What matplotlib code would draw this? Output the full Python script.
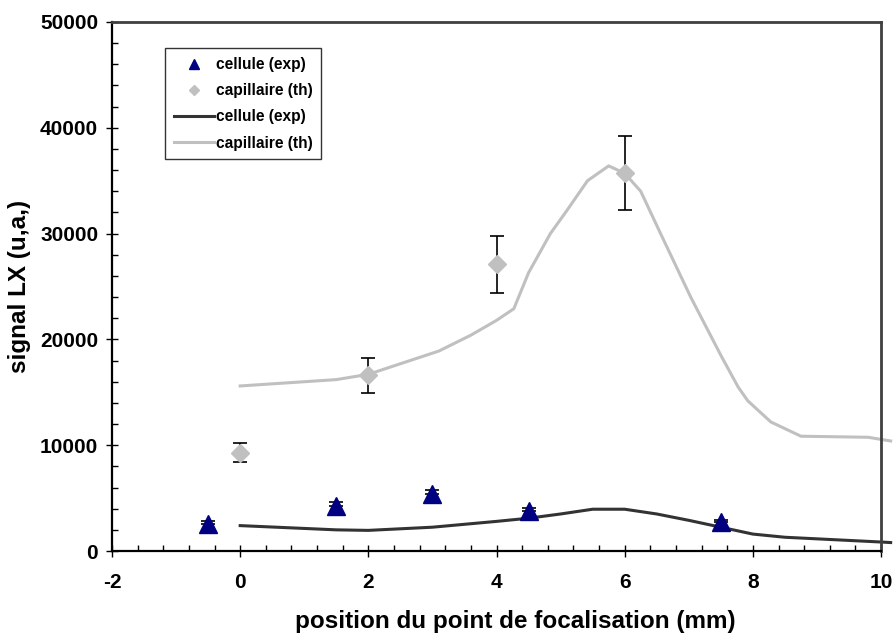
import matplotlib
matplotlib.use("Agg")
import matplotlib.pyplot as plt
from matplotlib.ticker import MultipleLocator

plt.rcParams['font.family'] = ['Liberation Sans', 'DejaVu Sans']
plt.rcParams['font.weight'] = 'bold'
plt.rcParams['axes.unicode_minus'] = False

# experimental points: cellule
cell_x = [-0.5, 1.5, 3.0, 4.5, 7.5]
cell_y = [2600, 4300, 5400, 3800, 2700]
cell_err = [250, 350, 400, 300, 250]

# experimental points: capillaire
cap_x = [0, 2, 4, 6]
cap_y = [9300, 16600, 27100, 35700]
cap_err = [900, 1650, 2700, 3500]

# theoretical curves
cell_line_x = [0, 1.5, 2, 3, 4, 4.5, 5, 5.5, 6, 6.5, 7, 7.5, 8, 8.5, 9, 10, 10.15]
cell_line_y = [2400, 2000, 1950, 2250, 2800, 3100, 3500, 3950, 3950, 3500, 2900, 2250, 1600, 1300, 1150, 850, 800]

cap_line_x = [0, 1.5, 2, 3.1, 3.6, 4.0, 4.27, 4.5, 4.84, 5.1, 5.42, 5.75, 6.0, 6.25, 6.56, 7.03, 7.5, 7.77, 7.92, 8.28, 8.75, 9.8, 10.15]
cap_line_y = [15600, 16200, 16700, 18900, 20400, 21800, 22900, 26300, 30000, 32200, 35000, 36400, 35700, 34000, 30000, 24000, 18500, 15500, 14200, 12200, 10850, 10750, 10400]

fig = plt.figure(figsize=(8.94, 6.34), dpi=100)
ax = fig.add_axes([0.1253, 0.1309, 0.8602, 0.8344])

ax.errorbar(cell_x, cell_y, yerr=[[0]*len(cell_err), cell_err], fmt='none', ecolor='black',
            elinewidth=1.2, capsize=5, capthick=1.2, zorder=3)
ax.errorbar(cap_x, cap_y, yerr=cap_err, fmt='none', ecolor='black',
            elinewidth=1.2, capsize=5, capthick=1.2, zorder=3)

ax.plot(cell_x, cell_y, linestyle='none', marker='^', markersize=13, color='#000080',
        label='cellule (exp)', zorder=4)
ax.plot(cap_x, cap_y, linestyle='none', marker='D', markersize=9, color='#c0c0c0',
        label='capillaire (th)', zorder=4)
ax.plot(cell_line_x, cell_line_y, color='#333333', linewidth=2.2, label='cellule (exp)',
        clip_on=False, zorder=2)
ax.plot(cap_line_x, cap_line_y, color='#c0c0c0', linewidth=2.2, label='capillaire (th)',
        clip_on=False, zorder=2)

ax.set_xlim(-2, 10)
ax.set_ylim(0, 50000)
ax.xaxis.set_major_locator(MultipleLocator(2))
ax.xaxis.set_minor_locator(MultipleLocator(0.4))
ax.yaxis.set_major_locator(MultipleLocator(10000))
ax.yaxis.set_minor_locator(MultipleLocator(2000))
ax.tick_params(which='major', direction='inout', length=8, width=1, labelsize=15)
ax.tick_params(which='minor', direction='in', length=4, width=1)
ax.tick_params(axis='x', pad=12)
ax.tick_params(axis='y', pad=6)

for s in ['left', 'bottom']:
    ax.spines[s].set_linewidth(1.6)
    ax.spines[s].set_color('black')
for s in ['top', 'right']:
    ax.spines[s].set_linewidth(2.0)
    ax.spines[s].set_color('#404040')

ax.set_xlabel('position du point de focalisation (mm)', fontsize=17.5, fontweight='bold')
ax.xaxis.set_label_coords(0.524, -0.134)
ax.xaxis.label.set_va('center')
ax.set_ylabel('signal LX (u,a,)', fontsize=17.5, fontweight='bold')
ax.yaxis.set_label_coords(-0.12, 0.5)
ax.yaxis.label.set_va('center')

leg = ax.legend(loc='upper left', bbox_to_anchor=(0.069, 0.95), frameon=True, fancybox=False,
                edgecolor='black', fontsize=11.2, handlelength=2.6, handletextpad=0.1,
                borderpad=0.55, labelspacing=0.72, borderaxespad=0, markerscale=0.6)
leg.get_frame().set_linewidth(1.0)
for t in leg.get_texts():
    t.set_fontweight('bold')

fig.savefig('out.png', dpi=100)
